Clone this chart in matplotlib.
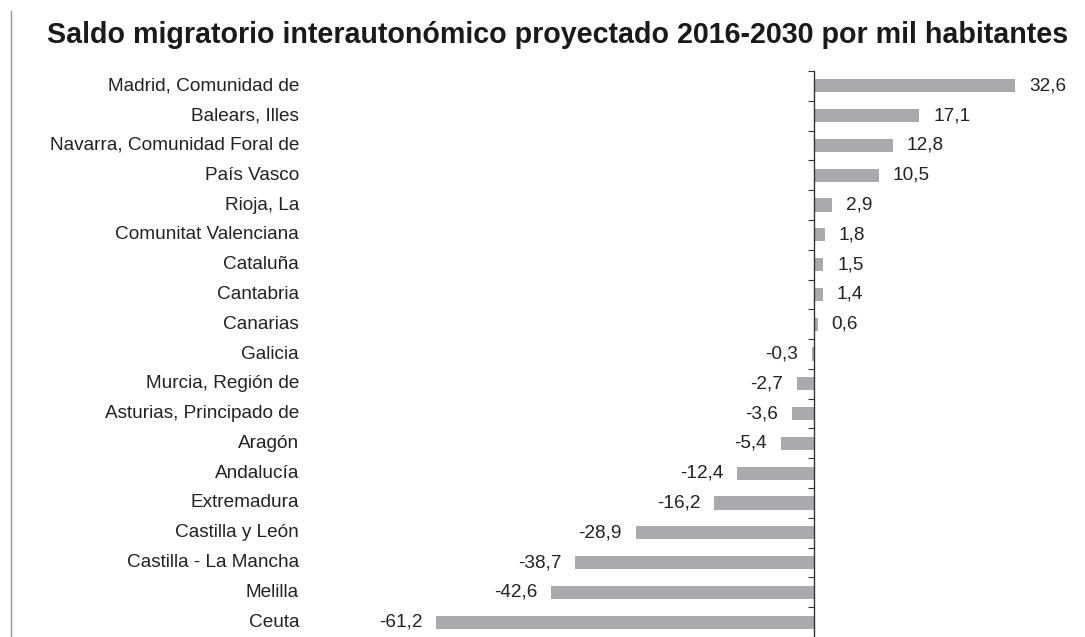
import matplotlib.pyplot as plt
from matplotlib.transforms import blended_transform_factory

plt.rcParams['font.family'] = ['Liberation Sans', 'DejaVu Sans']

# datos
regiones = ["Madrid, Comunidad de", "Balears, Illes", "Navarra, Comunidad Foral de",
            "País Vasco", "Rioja, La", "Comunitat Valenciana", "Cataluña", "Cantabria",
            "Canarias", "Galicia", "Murcia, Región de", "Asturias, Principado de",
            "Aragón", "Andalucía", "Extremadura", "Castilla y León",
            "Castilla - La Mancha", "Melilla", "Ceuta"]
saldo = [32.6, 17.1, 12.8, 10.5, 2.9, 1.8, 1.5, 1.4, 0.6, -0.3, -2.7, -3.6,
         -5.4, -12.4, -16.2, -28.9, -38.7, -42.6, -61.2]

W, H = 1085, 637
fig = plt.figure(figsize=(W / 100, H / 100), dpi=100)
ax = fig.add_axes([400 / W, 0, 670 / W, (637 - 71) / H])

pos = list(range(len(regiones)))
ax.barh(pos, saldo, height=0.44, color="#a9aaad")

ax.set_xlim(-67.1, 41.5)
ax.set_ylim(len(regiones) - 0.5, -0.5)

for s in ["top", "right", "bottom"]:
    ax.spines[s].set_visible(False)
ax.spines["left"].set_position(("data", 0))
ax.spines["left"].set_color("#333333")
ax.spines["left"].set_linewidth(1.0)
ax.set_xticks([])
ax.set_yticks([i - 0.5 for i in range(len(regiones) + 1)])
ax.set_yticklabels([])
ax.tick_params(axis="y", direction="out", length=4, color="#333333")

# nombres de regiones
trans = blended_transform_factory(fig.transFigure, ax.transData)
for i, r in enumerate(regiones):
    ax.text(299 / W, i, r, transform=trans, ha="right", va="center",
            fontsize=13.7, color="#222222")

# etiquetas de valor
for i, v in enumerate(saldo):
    txt = f"{v:.1f}".replace(".", ",")
    if v >= 0:
        ax.annotate(txt, (v, i), xytext=(10, 0), textcoords="offset points",
                    ha="left", va="center", fontsize=13.7, color="#222222")
    else:
        ax.annotate(txt, (v, i), xytext=(-10, 0), textcoords="offset points",
                    ha="right", va="center", fontsize=13.7, color="#222222")

fig.text(558 / W, 1 - 35 / H, "Saldo migratorio interautonómico proyectado 2016-2030 por mil habitantes",
         ha="center", va="center", fontsize=20.6, fontweight="bold", color="#1a1a1a")

# linea vertical a la izquierda
fig.add_artist(plt.Line2D([11 / W, 11 / W], [0, 1 - 11 / H], transform=fig.transFigure,
                          color="#999999", linewidth=1))

fig.savefig("out.png", dpi=100)
